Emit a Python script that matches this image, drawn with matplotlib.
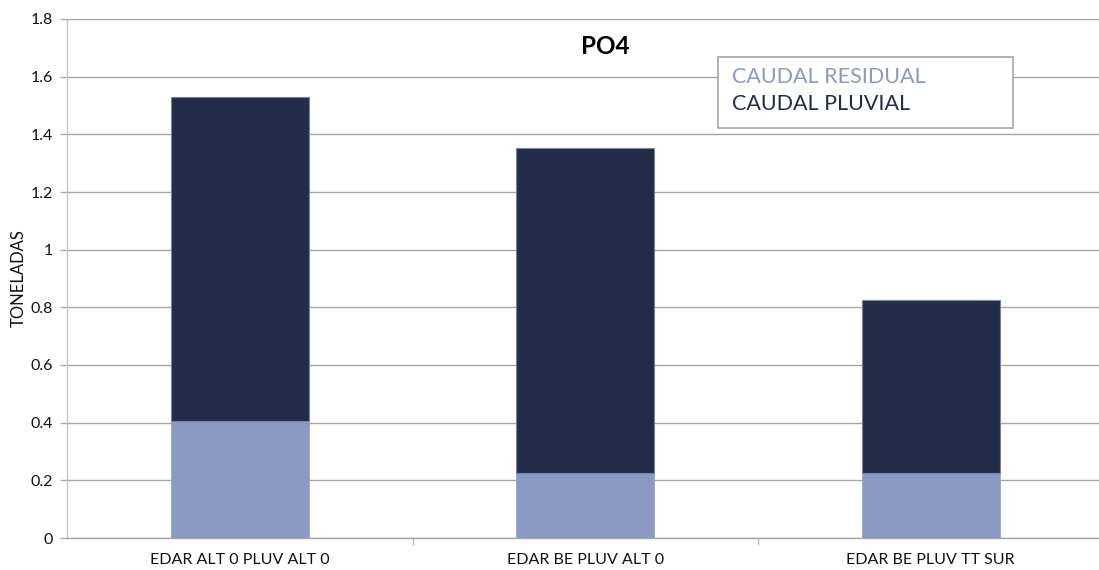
import matplotlib
matplotlib.use("Agg")
import matplotlib.pyplot as plt
from matplotlib.patches import Rectangle
import numpy as np

categories = ["EDAR ALT 0 PLUV ALT 0", "EDAR BE PLUV ALT 0", "EDAR BE PLUV TT SUR"]
residual = [0.406, 0.224, 0.224]
pluvial = [1.124, 1.127, 0.603]
series_names = ["CAUDAL RESIDUAL", "CAUDAL PLUVIAL"]
y_ticks = [0, 0.2, 0.4, 0.6, 0.8, 1, 1.2, 1.4, 1.6, 1.8]
y_tick_labels = ["0", "0.2", "0.4", "0.6", "0.8", "1", "1.2", "1.4", "1.6", "1.8"]

plt.rcParams['font.family'] = ['Lato', 'DejaVu Sans']

c_res = "#8a9ac3"
c_plu = "#232d49"
W, H = 1099, 570

fig = plt.figure(figsize=(W / 100, H / 100), dpi=100)
ax = fig.add_axes([67 / W, 1 - 538 / H, (1103.5 - 67) / W, 519 / H])

x = np.arange(len(categories))
w = 0.4
ax.bar(x, residual, w, color=c_res, edgecolor="#9aa6c8", linewidth=0.6, zorder=3)
ax.bar(x, pluvial, w, bottom=residual, color=c_plu, edgecolor="#7c8399", linewidth=0.8, zorder=3)

ax.set_xlim(-0.5, len(categories) - 0.5)
ax.set_ylim(0, 1.8)
ax.set_yticks(y_ticks)
ax.set_yticklabels(y_tick_labels)
ax.yaxis.grid(True, color="#a6a6a6", linewidth=1.0, zorder=0)
ax.set_axisbelow(True)

ax.set_xticks(x)
ax.set_xticklabels(categories)
ax.tick_params(axis="x", length=0, pad=11, labelsize=11.5, colors="#111111")
ax.set_xticks(np.arange(len(categories) - 1) + 0.5, minor=True)
ax.tick_params(axis="x", which="minor", length=5, color="#bbbbbb", width=1)
ax.tick_params(axis="y", length=5, color="#aaaaaa", width=1, pad=5, labelsize=11.5, labelcolor="#111111")

for s in ["top", "right"]:
    ax.spines[s].set_visible(False)
ax.spines["left"].set_color("#c4c4c4")
ax.spines["left"].set_linewidth(1.0)
ax.spines["bottom"].set_color("#a6a6a6")
ax.spines["bottom"].set_linewidth(1.0)

ax.set_ylabel("TONELADAS", fontsize=12, color="#111111")
ax.yaxis.set_label_coords((27 - 67) / (1103.5 - 67), 0.5)

fig.text(605 / W, 1 - 47 / H, "PO4", fontsize=17.5, fontweight="bold",
         ha="center", va="center", color="#000000")

# legend box with coloured series names
fig.add_artist(Rectangle((718 / W, 1 - 128 / H), (1013 - 718) / W, (128 - 57) / H,
                         transform=fig.transFigure, facecolor="white",
                         edgecolor="#a6a6a6", linewidth=1.2, zorder=5))
for name, c, yp in zip(series_names, [c_res, c_plu], [77, 104]):
    fig.text(732 / W, 1 - yp / H, name, fontsize=15.5, color=c,
             ha="left", va="center", zorder=6)

fig.savefig("out.png", dpi=100)
